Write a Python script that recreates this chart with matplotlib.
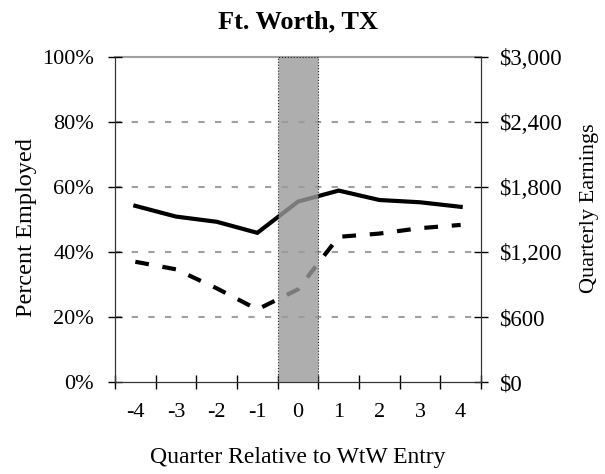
import matplotlib
matplotlib.use("Agg")
import matplotlib.pyplot as plt
import numpy as np

quarters = ["-4", "-3", "-2", "-1", "0", "1", "2", "3", "4"]
pct_employed = [54.2, 50.9, 49.3, 45.9, 55.5, 58.9, 56.0, 55.3, 53.9]
earnings = [1110, 1040, 865, 670, 855, 1340, 1370, 1420, 1450]
left_ticks = ["0%", "20%", "40%", "60%", "80%", "100%"]
right_ticks = ["$0", "$600", "$1,200", "$1,800", "$2,400", "$3,000"]

plt.rcParams['font.family'] = ['Liberation Serif', 'DejaVu Serif']

fig = plt.figure(figsize=(6.05, 4.74), dpi=100)
ax = fig.add_axes([115/605, 1-382/474, (481-115)/605, (382-57)/474])
ax2 = ax.twinx()

x = np.arange(len(quarters)) + 0.5
ax.set_xlim(0, len(quarters))
ax.set_ylim(0, 100)
ax2.set_ylim(0, 3000)

for v in [20, 40, 60, 80]:
    ax.axhline(v, color='#a0a0a0', lw=1.5, ls=(0, (3, 5)), zorder=1)
ax.axhline(100, color='#a0a0a0', lw=1.5, zorder=1, clip_on=False)

ax.plot(x, pct_employed, color='black', lw=3, zorder=3, solid_joinstyle='miter')
ax2.plot(x, earnings, color='black', lw=3, ls=(0, (3.3, 3.3)), zorder=3)

zi = quarters.index("0")
ax2.axvspan(zi, zi + 1, facecolor='#9a9a9a', alpha=0.8, edgecolor='black',
            lw=0.8, ls=':', zorder=5)

ax.set_xticks(np.arange(0, len(quarters) + 1))
ax.set_xticklabels([])
ax.set_xticks(x, minor=True)
ax.set_xticklabels(quarters, minor=True)
ax.tick_params(axis='x', which='major', direction='inout', length=10, width=1)
ax.tick_params(axis='x', which='minor', length=0, pad=15, labelsize=16)

ax.set_yticks(np.arange(0, 101, 20))
ax.set_yticklabels(left_ticks)
ax.tick_params(axis='y', direction='inout', length=10, width=1, labelsize=16, pad=10)
ax2.set_yticks(np.arange(0, 3001, 600))
ax2.set_yticklabels(right_ticks)
ax2.tick_params(axis='y', direction='inout', length=10, width=1, labelsize=16.5, pad=8)

for a in (ax, ax2):
    a.spines['top'].set_visible(False)
    a.spines['left'].set_color('#333333')
    a.spines['right'].set_color('#333333')
    a.spines['bottom'].set_color('#333333')

ax.set_ylabel("Percent Employed", fontsize=17.5, labelpad=4)
ax.yaxis.label.set_y(0.475)
ax2.set_ylabel("Quarterly Earnings", fontsize=16, labelpad=13)
ax2.yaxis.label.set_y(0.535)
ax.set_xlabel("Quarter Relative to WtW Entry", fontsize=17, labelpad=18)
ax.set_title("Ft. Worth, TX", fontsize=19, fontweight='bold', pad=21)

fig.savefig("out.png", dpi=100)
